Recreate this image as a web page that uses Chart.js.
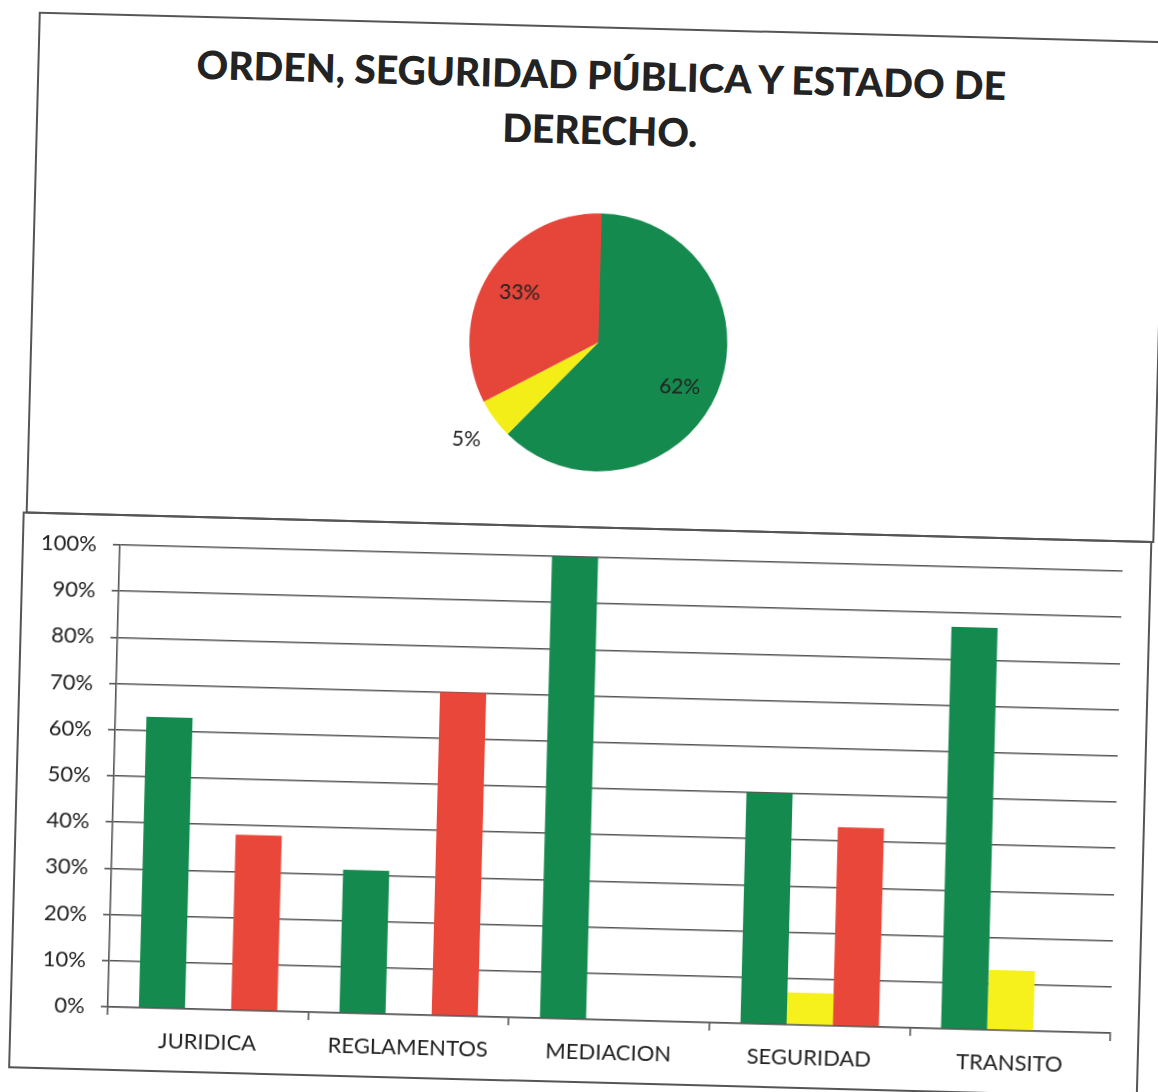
<!DOCTYPE html>
<html>
<head>
<meta charset="utf-8">
<script src="https://cdn.jsdelivr.net/npm/chart.js@4.4.1/dist/chart.umd.min.js"></script>
<style>
  html, body { margin: 0; padding: 0; background: #fff; }
  #page {
    position: absolute; left: 0; top: 0; width: 1158px; height: 1092px;
    transform: rotate(1.5deg); transform-origin: 579px 546px;
  }
  .box { position: absolute; border: 2px solid #555; box-sizing: border-box; }
  #title {
    position: absolute; left: 24px; width: 1130px; top: 47px;
    text-align: center; font-family: Lato, sans-serif; font-weight: 900;
    font-size: 39px; line-height: 55px; color: #232323;
  }
  #pieWrap { position: absolute; left: 413px; top: 192px; width: 360px; height: 300px; }
  #barWrap { position: absolute; left: 22px; top: 526px; width: 1130px; height: 557px; }
</style>
</head>
<body>
<div id="page">
  <div class="box" style="left:25px; top:26px; width:1129px; height:502px;"></div>
  <div class="box" style="left:22px; top:526px; width:1130px; height:557px;"></div>
  <div id="title">ORDEN, SEGURIDAD PÚBLICA Y ESTADO DE<br>DERECHO.</div>
  <div id="pieWrap"><canvas id="pie"></canvas></div>
  <div id="barWrap"><canvas id="bar"></canvas></div>
</div>
<script>
// Pie: overall share
const pieValues = [62, 5, 33];
const pieColors = ['#158a4e', '#f4ee18', '#e6453a'];

// Bars: share per area
const areas = ['JURIDICA', 'REGLAMENTOS', 'MEDIACION', 'SEGURIDAD', 'TRANSITO'];
const greenValues = [63, 31, 100, 50, 87];
const yellowValues = [0, 0, 0, 7, 13];
const redValues = [38, 70, 0, 43, 0];
const yStep = 10;

const textFont = 'Lato, sans-serif';

// percent labels on the pie slices, the small one outside
const pieLabels = {
    id: 'pieLabels',
    afterDatasetsDraw(chart) {
        const ctx = chart.ctx;
        const meta = chart.getDatasetMeta(0);
        ctx.save();
        ctx.font = '21px ' + textFont;
        ctx.fillStyle = '#222';
        ctx.textAlign = 'center';
        ctx.textBaseline = 'middle';
        meta.data.forEach((arc, i) => {
            // Excel's best-fit nudges the big label a bit lower
            const mid = (arc.startAngle + arc.endAngle) / 2 + (i === 0 ? 0.1 : 0);
            const k = pieValues[i] < 10 ? 1.27 : 0.72;
            const x = arc.x + Math.cos(mid) * arc.outerRadius * k;
            const y = arc.y + Math.sin(mid) * arc.outerRadius * k;
            ctx.fillText(pieValues[i] + '%', x, y);
        });
        ctx.restore();
    }
};

new Chart(document.getElementById('pie'), {
    type: 'pie',
    data: {
        labels: ['Verde', 'Amarillo', 'Rojo'],
        datasets: [{ data: pieValues, backgroundColor: pieColors, borderWidth: 0 }]
    },
    options: {
        responsive: true,
        maintainAspectRatio: false,
        animation: false,
        layout: { padding: { top: 21, bottom: 21 } },
        plugins: { legend: { display: false }, tooltip: { enabled: false } }
    },
    plugins: [pieLabels]
});

new Chart(document.getElementById('bar'), {
    type: 'bar',
    data: {
        labels: areas,
        datasets: [
            { data: greenValues, backgroundColor: '#158a4e' },
            { data: yellowValues, backgroundColor: '#f6f01c' },
            { data: redValues, backgroundColor: '#e8473a' }
        ]
    },
    options: {
        responsive: true,
        maintainAspectRatio: false,
        animation: false,
        categoryPercentage: 0.69,
        barPercentage: 1,
        layout: { padding: { top: 31, right: 29, left: 0, bottom: 0 } },
        plugins: { legend: { display: false }, tooltip: { enabled: false } },
        scales: {
            x: {
                grid: { drawOnChartArea: false, drawTicks: true, tickLength: 8, color: '#555', lineWidth: 1.6 },
                border: { display: true, color: '#555', width: 1.6 },
                ticks: { color: '#222', font: { family: textFont, size: 22 }, padding: 12, maxRotation: 0 },
                afterFit(scale) { scale.height = 64; }
            },
            y: {
                min: 0,
                max: 100,
                grid: { color: '#555', lineWidth: 1.6, tickLength: 7 },
                border: { display: true, color: '#555', width: 1.6 },
                ticks: {
                    stepSize: yStep,
                    color: '#222',
                    padding: 16,
                    font: { family: textFont, size: 22 },
                    callback: v => v + '%'
                },
                afterFit(scale) { scale.width = 98; }
            }
        }
    }
});
</script>
</body>
</html>
